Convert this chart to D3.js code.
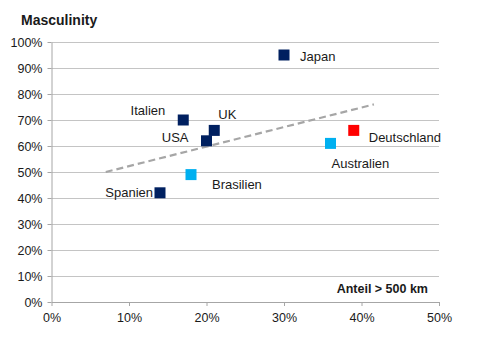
<!DOCTYPE html>
<html>
<head>
<meta charset="utf-8">
<script src="https://cdn.jsdelivr.net/npm/d3@7"></script>
<style>
  body { margin: 0; background: #fff; }
  text { font-family: "Liberation Sans", Arial, sans-serif; fill: #1a1a1a; }
</style>
</head>
<body>
<div id="wrapper"></div>
<script>
// data
let countries = ["Japan", "Italien", "UK", "USA", "Brasilien", "Spanien", "Australien", "Deutschland"]
let anteil = [30, 17, 21, 20, 18, 14, 36, 39]        // x, percent
let masculinity = [95, 70, 66, 62, 49, 42, 61, 66]   // y, percent
let groups = ["dark", "dark", "dark", "dark", "light", "dark", "light", "red"]
let trendX = [7, 41.6]
let trendY = [50, 76]
let xTicks = [0, 10, 20, 30, 40, 50]
let yTicks = [0, 10, 20, 30, 40, 50, 60, 70, 80, 90, 100]

// label placement relative to marker (layout only)
let labelPos = {
    "Japan":       { dx: 16, dy: 1, anchor: "start" },
    "Italien":     { dx: -18, dy: -10, anchor: "end" },
    "UK":          { dx: 4, dy: -16, anchor: "start" },
    "USA":         { dx: -18, dy: -3, anchor: "end" },
    "Brasilien":   { dx: 21, dy: 10, anchor: "start" },
    "Spanien":     { dx: -7, dy: 0, anchor: "end" },
    "Australien":  { dx: 1, dy: 20, anchor: "start" },
    "Deutschland": { dx: 15, dy: 7, anchor: "start" }
}

let dimensions = {
    width: 500,
    height: 352,
    margin: { top: 42, right: 61, bottom: 50, left: 51.5 }
}
let innerW = dimensions.width - dimensions.margin.left - dimensions.margin.right
let innerH = dimensions.height - dimensions.margin.top - dimensions.margin.bottom

let svg = d3.select("#wrapper")
    .append("svg")
    .attr("width", dimensions.width)
    .attr("height", dimensions.height)

let g = svg.append("g")
    .attr("transform", "translate(" + dimensions.margin.left + "," + dimensions.margin.top + ")")

let x = d3.scaleLinear().domain([0, 50]).range([0, innerW])
let y = d3.scaleLinear().domain([0, 100]).range([innerH, 0])

let color = d3.scaleOrdinal()
    .domain(["dark", "light", "red"])
    .range(["#002060", "#00B0F0", "#FF0000"])

// gridlines
g.append("g")
    .selectAll("line")
    .data(yTicks.filter(d => d > 0))
    .enter()
    .append("line")
      .attr("x1", 0)
      .attr("x2", innerW)
      .attr("y1", d => Math.round(y(d)) + 0.5)
      .attr("y2", d => Math.round(y(d)) + 0.5)
      .attr("stroke", "#c4c4c4")
      .attr("stroke-width", 1)

// y axis
let yAxis = g.append("g")
    .call(d3.axisLeft(y).tickValues(yTicks).tickFormat(d => d + "%").tickSize(4).tickSizeOuter(0))
yAxis.select(".domain").attr("stroke", "#a6a6a6")
yAxis.selectAll(".tick line").attr("stroke", "#a6a6a6")
yAxis.selectAll("text").attr("x", -9).style("font-size", "12.5px").attr("fill", "#1a1a1a")

// x axis
let xAxis = g.append("g")
    .attr("transform", "translate(0," + innerH + ")")
    .call(d3.axisBottom(x).tickValues(xTicks).tickFormat(d => d + "%").tickSize(4).tickSizeOuter(0))
xAxis.select(".domain").attr("stroke", "#a6a6a6")
xAxis.selectAll(".tick line").attr("stroke", "#a6a6a6")
xAxis.selectAll("text").attr("y", 11).style("font-size", "12.5px").attr("fill", "#1a1a1a")

// trendline
g.append("line")
    .attr("x1", x(trendX[0]))
    .attr("y1", y(trendY[0]))
    .attr("x2", x(trendX[1]))
    .attr("y2", y(trendY[1]))
    .attr("stroke", "#a6a6a6")
    .attr("stroke-width", 2.2)
    .attr("stroke-dasharray", "7,4")

// markers
let size = 11
g.append("g")
    .selectAll("rect")
    .data(countries)
    .enter()
    .append("rect")
      .attr("x", (d, i) => x(anteil[i]) - size / 2)
      .attr("y", (d, i) => y(masculinity[i]) - size / 2)
      .attr("width", size)
      .attr("height", size)
      .attr("fill", (d, i) => color(groups[i]))

// labels
g.append("g")
    .selectAll("text")
    .data(countries)
    .enter()
    .append("text")
      .attr("x", (d, i) => x(anteil[i]) + labelPos[d].dx)
      .attr("y", (d, i) => y(masculinity[i]) + labelPos[d].dy)
      .attr("dy", "0.35em")
      .attr("text-anchor", d => labelPos[d].anchor)
      .style("font-size", "13px")
      .text(d => d)

// title and axis caption
svg.append("text")
    .attr("x", 21)
    .attr("y", 25)
    .style("font-size", "14px")
    .style("font-weight", "bold")
    .text("Masculinity")

svg.append("text")
    .attr("x", 428)
    .attr("y", 293)
    .attr("text-anchor", "end")
    .style("font-size", "12.5px")
    .style("font-weight", "bold")
    .text("Anteil > 500 km")
</script>
</body>
</html>
